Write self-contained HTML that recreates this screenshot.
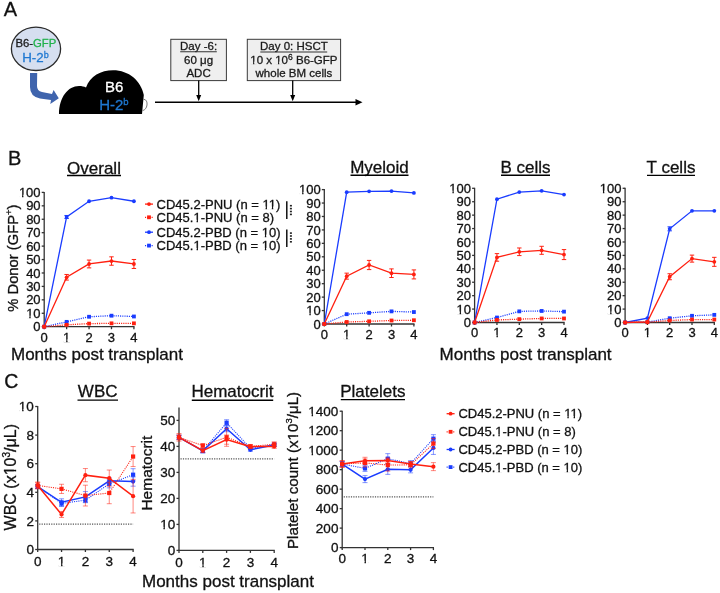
<!DOCTYPE html><html><head><meta charset="utf-8"><style>html,body{margin:0;padding:0;background:#fff;width:720px;height:593px;overflow:hidden}svg{display:block;will-change:transform}text{font-family:"Liberation Sans",sans-serif;stroke-width:0.3px}</style></head><body>
<svg width="720" height="593" viewBox="0 0 720 593">
<rect width="720" height="593" fill="#fff"/>
<text x="3.80" y="15.80" font-size="20" text-anchor="start" fill="#111" stroke="#111" >A</text>
<ellipse cx="36" cy="48.8" rx="24.6" ry="21.7" fill="#d6dff0" stroke="#2b2b2b" stroke-width="1.3"/>
<text x="35.9" y="46.8" font-size="11.3" text-anchor="middle" fill="#1a1a1a" stroke="#1a1a1a">B6-<tspan fill="#22b24c" stroke="#22b24c">GFP</tspan></text>
<text x="35.5" y="62.4" font-size="13.3" text-anchor="middle" fill="#1f78d1" stroke="#1f78d1">H-2<tspan font-size="9" dy="-4.8">b</tspan></text>
<path d="M30,73 L37.2,73 L37,86 Q37,91 42,92 L52,94 L53.6,90 L58.8,98.3 L50.3,104 L51,100 L40,98.5 Q30,96.5 30,87 Z" fill="#3f64ad"/>
<path d="M59,114 C59.3,97 68,86 79,86 C82,86 84,86.5 86,87.5 C90,76 101,70.3 113,70.3 C129,70.3 141,81 143.8,95 L142,114 Z" fill="#000"/>
<path d="M143.5,99.2 C146.5,99.5 147.3,102 147,105 C146.6,108 145,110 142.6,110.6" fill="none" stroke="#555" stroke-width="0.8"/>
<text x="114.10" y="91.80" font-size="15" text-anchor="middle" fill="#fff" stroke="#fff" >B6</text>
<text x="99.2" y="110" font-size="15" fill="#1f78d1" stroke="#1f78d1">H-2<tspan font-size="9.5" dy="-5">b</tspan></text>
<line x1="155.00" y1="102.20" x2="358.00" y2="102.20" stroke="#000" stroke-width="1.5" />
<path d="M355.5,98.9 L362.5,102.2 L355.5,105.5 Z" fill="#000"/>
<rect x="170.8" y="39.3" width="55.6" height="41.3" fill="#efefef" stroke="#3a3a3a" stroke-width="1"/>
<rect x="247.3" y="39.3" width="93.3" height="41.3" fill="#efefef" stroke="#3a3a3a" stroke-width="1"/>
<text x="198.60" y="49.80" font-size="11.5" text-anchor="middle" fill="#1a1a1a" stroke="#1a1a1a" >Day -6:</text>
<line x1="180.20" y1="51.70" x2="216.80" y2="51.70" stroke="#333" stroke-width="1.1" />
<text x="198.60" y="63.60" font-size="11.5" text-anchor="middle" fill="#1a1a1a" stroke="#1a1a1a" >60 μg</text>
<text x="198.60" y="77.20" font-size="11.5" text-anchor="middle" fill="#1a1a1a" stroke="#1a1a1a" >ADC</text>
<text x="293.90" y="49.90" font-size="11.5" text-anchor="middle" fill="#1a1a1a" stroke="#1a1a1a" >Day 0: HSCT</text>
<line x1="260.30" y1="52.00" x2="327.20" y2="52.00" stroke="#333" stroke-width="1.1" />
<text x="293.9" y="63.8" font-size="11.5" text-anchor="middle" fill="#1a1a1a" stroke="#1a1a1a">10 x 10<tspan font-size="8.5" dy="-4.3">6</tspan><tspan dy="4.3"> B6-GFP</tspan></text>
<text x="293.90" y="77.30" font-size="11.5" text-anchor="middle" fill="#1a1a1a" stroke="#1a1a1a" >whole BM cells</text>
<line x1="198.70" y1="80.60" x2="198.70" y2="97.00" stroke="#000" stroke-width="1.3" />
<path d="M196.2,95 L198.7,101.2 L201.2,95 Z" fill="#000"/>
<line x1="292.70" y1="80.60" x2="292.70" y2="97.00" stroke="#000" stroke-width="1.3" />
<path d="M290.2,95 L292.7,101.2 L295.2,95 Z" fill="#000"/>
<text x="7.90" y="164.60" font-size="20" text-anchor="start" fill="#111" stroke="#111" >B</text>
<text x="94.00" y="173.50" font-size="17" text-anchor="middle" fill="#111" stroke="#111" >Overall</text>
<line x1="67.00" y1="175.50" x2="121.00" y2="175.50" stroke="#000" stroke-width="1.4" />
<text x="379.50" y="173.00" font-size="17" text-anchor="middle" fill="#111" stroke="#111" >Myeloid</text>
<line x1="350.50" y1="175.20" x2="408.50" y2="175.20" stroke="#000" stroke-width="1.4" />
<text x="525.50" y="173.00" font-size="17" text-anchor="middle" fill="#111" stroke="#111" >B cells</text>
<line x1="501.00" y1="175.20" x2="550.00" y2="175.20" stroke="#000" stroke-width="1.4" />
<text x="671.00" y="173.00" font-size="17" text-anchor="middle" fill="#111" stroke="#111" >T cells</text>
<line x1="647.00" y1="175.40" x2="695.00" y2="175.40" stroke="#000" stroke-width="1.4" />
<text transform="translate(17.5,311.7) rotate(-90)" font-size="14.75" fill="#111" stroke="#111">% Donor (GFP<tspan font-size="9.5" dy="-6">+</tspan><tspan dy="6">)</tspan></text>
<text x="11.00" y="359.80" font-size="17" text-anchor="start" fill="#111" stroke="#111" >Months post transplant</text>
<text x="439.60" y="360.00" font-size="17" text-anchor="start" fill="#111" stroke="#111" >Months post transplant</text>
<line x1="44.20" y1="191.90" x2="44.20" y2="327.30" stroke="#333" stroke-width="1.3" />
<line x1="43.60" y1="326.70" x2="134.52" y2="326.70" stroke="#333" stroke-width="1.3" />
<line x1="41.70" y1="326.70" x2="44.20" y2="326.70" stroke="#333" stroke-width="1.3" />
<text x="40.60" y="331.31" font-size="13" text-anchor="end" fill="#111" stroke="#111" >0</text>
<line x1="41.70" y1="313.27" x2="44.20" y2="313.27" stroke="#333" stroke-width="1.3" />
<text x="40.60" y="317.88" font-size="13" text-anchor="end" fill="#111" stroke="#111" >10</text>
<line x1="41.70" y1="299.84" x2="44.20" y2="299.84" stroke="#333" stroke-width="1.3" />
<text x="40.60" y="304.45" font-size="13" text-anchor="end" fill="#111" stroke="#111" >20</text>
<line x1="41.70" y1="286.41" x2="44.20" y2="286.41" stroke="#333" stroke-width="1.3" />
<text x="40.60" y="291.02" font-size="13" text-anchor="end" fill="#111" stroke="#111" >30</text>
<line x1="41.70" y1="272.98" x2="44.20" y2="272.98" stroke="#333" stroke-width="1.3" />
<text x="40.60" y="277.60" font-size="13" text-anchor="end" fill="#111" stroke="#111" >40</text>
<line x1="41.70" y1="259.55" x2="44.20" y2="259.55" stroke="#333" stroke-width="1.3" />
<text x="40.60" y="264.17" font-size="13" text-anchor="end" fill="#111" stroke="#111" >50</text>
<line x1="41.70" y1="246.12" x2="44.20" y2="246.12" stroke="#333" stroke-width="1.3" />
<text x="40.60" y="250.74" font-size="13" text-anchor="end" fill="#111" stroke="#111" >60</text>
<line x1="41.70" y1="232.69" x2="44.20" y2="232.69" stroke="#333" stroke-width="1.3" />
<text x="40.60" y="237.31" font-size="13" text-anchor="end" fill="#111" stroke="#111" >70</text>
<line x1="41.70" y1="219.26" x2="44.20" y2="219.26" stroke="#333" stroke-width="1.3" />
<text x="40.60" y="223.88" font-size="13" text-anchor="end" fill="#111" stroke="#111" >80</text>
<line x1="41.70" y1="205.83" x2="44.20" y2="205.83" stroke="#333" stroke-width="1.3" />
<text x="40.60" y="210.45" font-size="13" text-anchor="end" fill="#111" stroke="#111" >90</text>
<line x1="41.70" y1="192.40" x2="44.20" y2="192.40" stroke="#333" stroke-width="1.3" />
<text x="40.60" y="197.02" font-size="13" text-anchor="end" fill="#111" stroke="#111" >100</text>
<line x1="44.20" y1="326.70" x2="44.20" y2="329.20" stroke="#333" stroke-width="1.3" />
<text x="44.20" y="341.50" font-size="13" text-anchor="middle" fill="#111" stroke="#111" >0</text>
<line x1="66.63" y1="326.70" x2="66.63" y2="329.20" stroke="#333" stroke-width="1.3" />
<text x="66.63" y="341.50" font-size="13" text-anchor="middle" fill="#111" stroke="#111" >1</text>
<line x1="89.06" y1="326.70" x2="89.06" y2="329.20" stroke="#333" stroke-width="1.3" />
<text x="89.06" y="341.50" font-size="13" text-anchor="middle" fill="#111" stroke="#111" >2</text>
<line x1="111.49" y1="326.70" x2="111.49" y2="329.20" stroke="#333" stroke-width="1.3" />
<text x="111.49" y="341.50" font-size="13" text-anchor="middle" fill="#111" stroke="#111" >3</text>
<line x1="133.92" y1="326.70" x2="133.92" y2="329.20" stroke="#333" stroke-width="1.3" />
<text x="133.92" y="341.50" font-size="13" text-anchor="middle" fill="#111" stroke="#111" >4</text>
<polyline points="44.20,326.70 66.63,321.87 89.06,316.76 111.49,315.69 133.92,316.49" fill="none" stroke="#1a3cff" stroke-width="1.3" stroke-dasharray="1.1 1.1"/>
<rect x="42.30" y="324.80" width="3.8" height="3.8" fill="#1a3cff"/>
<rect x="64.73" y="319.97" width="3.8" height="3.8" fill="#1a3cff"/>
<rect x="87.16" y="314.86" width="3.8" height="3.8" fill="#1a3cff"/>
<rect x="109.59" y="313.79" width="3.8" height="3.8" fill="#1a3cff"/>
<rect x="132.02" y="314.59" width="3.8" height="3.8" fill="#1a3cff"/>
<polyline points="44.20,326.70 66.63,216.98 89.06,201.26 111.49,197.64 133.92,201.26" fill="none" stroke="#1a3cff" stroke-width="1.3" />
<circle cx="44.20" cy="326.70" r="1.9" fill="#1a3cff"/>
<line x1="66.63" y1="215.48" x2="66.63" y2="218.48" stroke="#1a3cff" stroke-width="1.0" stroke-opacity="1.0"/>
<line x1="64.43" y1="215.48" x2="68.83" y2="215.48" stroke="#1a3cff" stroke-width="1.0" stroke-opacity="1.0"/>
<line x1="64.43" y1="218.48" x2="68.83" y2="218.48" stroke="#1a3cff" stroke-width="1.0" stroke-opacity="1.0"/>
<circle cx="66.63" cy="216.98" r="1.9" fill="#1a3cff"/>
<circle cx="89.06" cy="201.26" r="1.9" fill="#1a3cff"/>
<circle cx="111.49" cy="197.64" r="1.9" fill="#1a3cff"/>
<circle cx="133.92" cy="201.26" r="1.9" fill="#1a3cff"/>
<polyline points="44.20,326.70 66.63,324.82 89.06,323.61 111.49,323.34 133.92,323.34" fill="none" stroke="#ff2010" stroke-width="1.3" stroke-dasharray="1.1 1.1"/>
<rect x="42.30" y="324.80" width="3.8" height="3.8" fill="#ff2010"/>
<rect x="64.73" y="322.92" width="3.8" height="3.8" fill="#ff2010"/>
<rect x="87.16" y="321.71" width="3.8" height="3.8" fill="#ff2010"/>
<rect x="109.59" y="321.44" width="3.8" height="3.8" fill="#ff2010"/>
<rect x="132.02" y="321.44" width="3.8" height="3.8" fill="#ff2010"/>
<polyline points="44.20,326.70 66.63,277.28 89.06,263.98 111.49,261.03 133.92,263.98" fill="none" stroke="#ff2010" stroke-width="1.3" />
<circle cx="44.20" cy="326.70" r="1.9" fill="#ff2010"/>
<line x1="66.63" y1="274.48" x2="66.63" y2="280.08" stroke="#ff2010" stroke-width="1.0" stroke-opacity="1.0"/>
<line x1="64.43" y1="274.48" x2="68.83" y2="274.48" stroke="#ff2010" stroke-width="1.0" stroke-opacity="1.0"/>
<line x1="64.43" y1="280.08" x2="68.83" y2="280.08" stroke="#ff2010" stroke-width="1.0" stroke-opacity="1.0"/>
<circle cx="66.63" cy="277.28" r="1.9" fill="#ff2010"/>
<line x1="89.06" y1="260.08" x2="89.06" y2="267.88" stroke="#ff2010" stroke-width="1.0" stroke-opacity="1.0"/>
<line x1="86.86" y1="260.08" x2="91.26" y2="260.08" stroke="#ff2010" stroke-width="1.0" stroke-opacity="1.0"/>
<line x1="86.86" y1="267.88" x2="91.26" y2="267.88" stroke="#ff2010" stroke-width="1.0" stroke-opacity="1.0"/>
<circle cx="89.06" cy="263.98" r="1.9" fill="#ff2010"/>
<line x1="111.49" y1="256.83" x2="111.49" y2="265.23" stroke="#ff2010" stroke-width="1.0" stroke-opacity="1.0"/>
<line x1="109.29" y1="256.83" x2="113.69" y2="256.83" stroke="#ff2010" stroke-width="1.0" stroke-opacity="1.0"/>
<line x1="109.29" y1="265.23" x2="113.69" y2="265.23" stroke="#ff2010" stroke-width="1.0" stroke-opacity="1.0"/>
<circle cx="111.49" cy="261.03" r="1.9" fill="#ff2010"/>
<line x1="133.92" y1="259.48" x2="133.92" y2="268.48" stroke="#ff2010" stroke-width="1.0" stroke-opacity="1.0"/>
<line x1="131.72" y1="259.48" x2="136.12" y2="259.48" stroke="#ff2010" stroke-width="1.0" stroke-opacity="1.0"/>
<line x1="131.72" y1="268.48" x2="136.12" y2="268.48" stroke="#ff2010" stroke-width="1.0" stroke-opacity="1.0"/>
<circle cx="133.92" cy="263.98" r="1.9" fill="#ff2010"/>
<line x1="324.30" y1="189.10" x2="324.30" y2="324.60" stroke="#333" stroke-width="1.3" />
<line x1="323.70" y1="324.00" x2="414.50" y2="324.00" stroke="#333" stroke-width="1.3" />
<line x1="321.80" y1="324.00" x2="324.30" y2="324.00" stroke="#333" stroke-width="1.3" />
<text x="320.70" y="328.62" font-size="13" text-anchor="end" fill="#111" stroke="#111" >0</text>
<line x1="321.80" y1="310.56" x2="324.30" y2="310.56" stroke="#333" stroke-width="1.3" />
<text x="320.70" y="315.18" font-size="13" text-anchor="end" fill="#111" stroke="#111" >10</text>
<line x1="321.80" y1="297.12" x2="324.30" y2="297.12" stroke="#333" stroke-width="1.3" />
<text x="320.70" y="301.74" font-size="13" text-anchor="end" fill="#111" stroke="#111" >20</text>
<line x1="321.80" y1="283.68" x2="324.30" y2="283.68" stroke="#333" stroke-width="1.3" />
<text x="320.70" y="288.30" font-size="13" text-anchor="end" fill="#111" stroke="#111" >30</text>
<line x1="321.80" y1="270.24" x2="324.30" y2="270.24" stroke="#333" stroke-width="1.3" />
<text x="320.70" y="274.86" font-size="13" text-anchor="end" fill="#111" stroke="#111" >40</text>
<line x1="321.80" y1="256.80" x2="324.30" y2="256.80" stroke="#333" stroke-width="1.3" />
<text x="320.70" y="261.42" font-size="13" text-anchor="end" fill="#111" stroke="#111" >50</text>
<line x1="321.80" y1="243.36" x2="324.30" y2="243.36" stroke="#333" stroke-width="1.3" />
<text x="320.70" y="247.98" font-size="13" text-anchor="end" fill="#111" stroke="#111" >60</text>
<line x1="321.80" y1="229.92" x2="324.30" y2="229.92" stroke="#333" stroke-width="1.3" />
<text x="320.70" y="234.53" font-size="13" text-anchor="end" fill="#111" stroke="#111" >70</text>
<line x1="321.80" y1="216.48" x2="324.30" y2="216.48" stroke="#333" stroke-width="1.3" />
<text x="320.70" y="221.09" font-size="13" text-anchor="end" fill="#111" stroke="#111" >80</text>
<line x1="321.80" y1="203.04" x2="324.30" y2="203.04" stroke="#333" stroke-width="1.3" />
<text x="320.70" y="207.66" font-size="13" text-anchor="end" fill="#111" stroke="#111" >90</text>
<line x1="321.80" y1="189.60" x2="324.30" y2="189.60" stroke="#333" stroke-width="1.3" />
<text x="320.70" y="194.22" font-size="13" text-anchor="end" fill="#111" stroke="#111" >100</text>
<line x1="324.30" y1="324.00" x2="324.30" y2="326.50" stroke="#333" stroke-width="1.3" />
<text x="324.30" y="338.70" font-size="13" text-anchor="middle" fill="#111" stroke="#111" >0</text>
<line x1="346.70" y1="324.00" x2="346.70" y2="326.50" stroke="#333" stroke-width="1.3" />
<text x="346.70" y="338.70" font-size="13" text-anchor="middle" fill="#111" stroke="#111" >1</text>
<line x1="369.10" y1="324.00" x2="369.10" y2="326.50" stroke="#333" stroke-width="1.3" />
<text x="369.10" y="338.70" font-size="13" text-anchor="middle" fill="#111" stroke="#111" >2</text>
<line x1="391.50" y1="324.00" x2="391.50" y2="326.50" stroke="#333" stroke-width="1.3" />
<text x="391.50" y="338.70" font-size="13" text-anchor="middle" fill="#111" stroke="#111" >3</text>
<line x1="413.90" y1="324.00" x2="413.90" y2="326.50" stroke="#333" stroke-width="1.3" />
<text x="413.90" y="338.70" font-size="13" text-anchor="middle" fill="#111" stroke="#111" >4</text>
<polyline points="324.30,324.00 346.70,314.19 369.10,312.84 391.50,311.37 413.90,312.04" fill="none" stroke="#1a3cff" stroke-width="1.3" stroke-dasharray="1.1 1.1"/>
<rect x="322.40" y="322.10" width="3.8" height="3.8" fill="#1a3cff"/>
<rect x="344.80" y="312.29" width="3.8" height="3.8" fill="#1a3cff"/>
<rect x="367.20" y="310.94" width="3.8" height="3.8" fill="#1a3cff"/>
<rect x="389.60" y="309.47" width="3.8" height="3.8" fill="#1a3cff"/>
<rect x="412.00" y="310.14" width="3.8" height="3.8" fill="#1a3cff"/>
<polyline points="324.30,324.00 346.70,192.15 369.10,191.35 391.50,191.08 413.90,192.96" fill="none" stroke="#1a3cff" stroke-width="1.3" />
<circle cx="324.30" cy="324.00" r="1.9" fill="#1a3cff"/>
<circle cx="346.70" cy="192.15" r="1.9" fill="#1a3cff"/>
<circle cx="369.10" cy="191.35" r="1.9" fill="#1a3cff"/>
<circle cx="391.50" cy="191.08" r="1.9" fill="#1a3cff"/>
<circle cx="413.90" cy="192.96" r="1.9" fill="#1a3cff"/>
<polyline points="324.30,324.00 346.70,321.98 369.10,321.31 391.50,320.51 413.90,320.24" fill="none" stroke="#ff2010" stroke-width="1.3" stroke-dasharray="1.1 1.1"/>
<rect x="322.40" y="322.10" width="3.8" height="3.8" fill="#ff2010"/>
<rect x="344.80" y="320.08" width="3.8" height="3.8" fill="#ff2010"/>
<rect x="367.20" y="319.41" width="3.8" height="3.8" fill="#ff2010"/>
<rect x="389.60" y="318.61" width="3.8" height="3.8" fill="#ff2010"/>
<rect x="412.00" y="318.34" width="3.8" height="3.8" fill="#ff2010"/>
<polyline points="324.30,324.00 346.70,276.15 369.10,265.00 391.50,273.20 413.90,274.41" fill="none" stroke="#ff2010" stroke-width="1.3" />
<circle cx="324.30" cy="324.00" r="1.9" fill="#ff2010"/>
<line x1="346.70" y1="273.15" x2="346.70" y2="279.15" stroke="#ff2010" stroke-width="1.0" stroke-opacity="1.0"/>
<line x1="344.50" y1="273.15" x2="348.90" y2="273.15" stroke="#ff2010" stroke-width="1.0" stroke-opacity="1.0"/>
<line x1="344.50" y1="279.15" x2="348.90" y2="279.15" stroke="#ff2010" stroke-width="1.0" stroke-opacity="1.0"/>
<circle cx="346.70" cy="276.15" r="1.9" fill="#ff2010"/>
<line x1="369.10" y1="260.40" x2="369.10" y2="269.60" stroke="#ff2010" stroke-width="1.0" stroke-opacity="1.0"/>
<line x1="366.90" y1="260.40" x2="371.30" y2="260.40" stroke="#ff2010" stroke-width="1.0" stroke-opacity="1.0"/>
<line x1="366.90" y1="269.60" x2="371.30" y2="269.60" stroke="#ff2010" stroke-width="1.0" stroke-opacity="1.0"/>
<circle cx="369.10" cy="265.00" r="1.9" fill="#ff2010"/>
<line x1="391.50" y1="268.90" x2="391.50" y2="277.50" stroke="#ff2010" stroke-width="1.0" stroke-opacity="1.0"/>
<line x1="389.30" y1="268.90" x2="393.70" y2="268.90" stroke="#ff2010" stroke-width="1.0" stroke-opacity="1.0"/>
<line x1="389.30" y1="277.50" x2="393.70" y2="277.50" stroke="#ff2010" stroke-width="1.0" stroke-opacity="1.0"/>
<circle cx="391.50" cy="273.20" r="1.9" fill="#ff2010"/>
<line x1="413.90" y1="269.91" x2="413.90" y2="278.91" stroke="#ff2010" stroke-width="1.0" stroke-opacity="1.0"/>
<line x1="411.70" y1="269.91" x2="416.10" y2="269.91" stroke="#ff2010" stroke-width="1.0" stroke-opacity="1.0"/>
<line x1="411.70" y1="278.91" x2="416.10" y2="278.91" stroke="#ff2010" stroke-width="1.0" stroke-opacity="1.0"/>
<circle cx="413.90" cy="274.41" r="1.9" fill="#ff2010"/>
<line x1="474.60" y1="187.80" x2="474.60" y2="323.10" stroke="#333" stroke-width="1.3" />
<line x1="474.00" y1="322.50" x2="564.60" y2="322.50" stroke="#333" stroke-width="1.3" />
<line x1="472.10" y1="322.50" x2="474.60" y2="322.50" stroke="#333" stroke-width="1.3" />
<text x="471.00" y="327.12" font-size="13" text-anchor="end" fill="#111" stroke="#111" >0</text>
<line x1="472.10" y1="309.08" x2="474.60" y2="309.08" stroke="#333" stroke-width="1.3" />
<text x="471.00" y="313.69" font-size="13" text-anchor="end" fill="#111" stroke="#111" >10</text>
<line x1="472.10" y1="295.66" x2="474.60" y2="295.66" stroke="#333" stroke-width="1.3" />
<text x="471.00" y="300.28" font-size="13" text-anchor="end" fill="#111" stroke="#111" >20</text>
<line x1="472.10" y1="282.24" x2="474.60" y2="282.24" stroke="#333" stroke-width="1.3" />
<text x="471.00" y="286.86" font-size="13" text-anchor="end" fill="#111" stroke="#111" >30</text>
<line x1="472.10" y1="268.82" x2="474.60" y2="268.82" stroke="#333" stroke-width="1.3" />
<text x="471.00" y="273.44" font-size="13" text-anchor="end" fill="#111" stroke="#111" >40</text>
<line x1="472.10" y1="255.40" x2="474.60" y2="255.40" stroke="#333" stroke-width="1.3" />
<text x="471.00" y="260.01" font-size="13" text-anchor="end" fill="#111" stroke="#111" >50</text>
<line x1="472.10" y1="241.98" x2="474.60" y2="241.98" stroke="#333" stroke-width="1.3" />
<text x="471.00" y="246.60" font-size="13" text-anchor="end" fill="#111" stroke="#111" >60</text>
<line x1="472.10" y1="228.56" x2="474.60" y2="228.56" stroke="#333" stroke-width="1.3" />
<text x="471.00" y="233.18" font-size="13" text-anchor="end" fill="#111" stroke="#111" >70</text>
<line x1="472.10" y1="215.14" x2="474.60" y2="215.14" stroke="#333" stroke-width="1.3" />
<text x="471.00" y="219.76" font-size="13" text-anchor="end" fill="#111" stroke="#111" >80</text>
<line x1="472.10" y1="201.72" x2="474.60" y2="201.72" stroke="#333" stroke-width="1.3" />
<text x="471.00" y="206.34" font-size="13" text-anchor="end" fill="#111" stroke="#111" >90</text>
<line x1="472.10" y1="188.30" x2="474.60" y2="188.30" stroke="#333" stroke-width="1.3" />
<text x="471.00" y="192.92" font-size="13" text-anchor="end" fill="#111" stroke="#111" >100</text>
<line x1="474.60" y1="322.50" x2="474.60" y2="325.00" stroke="#333" stroke-width="1.3" />
<text x="474.60" y="337.20" font-size="13" text-anchor="middle" fill="#111" stroke="#111" >0</text>
<line x1="496.95" y1="322.50" x2="496.95" y2="325.00" stroke="#333" stroke-width="1.3" />
<text x="496.95" y="337.20" font-size="13" text-anchor="middle" fill="#111" stroke="#111" >1</text>
<line x1="519.30" y1="322.50" x2="519.30" y2="325.00" stroke="#333" stroke-width="1.3" />
<text x="519.30" y="337.20" font-size="13" text-anchor="middle" fill="#111" stroke="#111" >2</text>
<line x1="541.65" y1="322.50" x2="541.65" y2="325.00" stroke="#333" stroke-width="1.3" />
<text x="541.65" y="337.20" font-size="13" text-anchor="middle" fill="#111" stroke="#111" >3</text>
<line x1="564.00" y1="322.50" x2="564.00" y2="325.00" stroke="#333" stroke-width="1.3" />
<text x="564.00" y="337.20" font-size="13" text-anchor="middle" fill="#111" stroke="#111" >4</text>
<polyline points="474.60,322.50 496.95,317.53 519.30,311.36 541.65,310.96 564.00,311.63" fill="none" stroke="#1a3cff" stroke-width="1.3" stroke-dasharray="1.1 1.1"/>
<rect x="472.70" y="320.60" width="3.8" height="3.8" fill="#1a3cff"/>
<rect x="495.05" y="315.63" width="3.8" height="3.8" fill="#1a3cff"/>
<rect x="517.40" y="309.46" width="3.8" height="3.8" fill="#1a3cff"/>
<rect x="539.75" y="309.06" width="3.8" height="3.8" fill="#1a3cff"/>
<rect x="562.10" y="309.73" width="3.8" height="3.8" fill="#1a3cff"/>
<polyline points="474.60,322.50 496.95,199.17 519.30,192.06 541.65,190.85 564.00,194.61" fill="none" stroke="#1a3cff" stroke-width="1.3" />
<circle cx="474.60" cy="322.50" r="1.9" fill="#1a3cff"/>
<circle cx="496.95" cy="199.17" r="1.9" fill="#1a3cff"/>
<circle cx="519.30" cy="192.06" r="1.9" fill="#1a3cff"/>
<circle cx="541.65" cy="190.85" r="1.9" fill="#1a3cff"/>
<circle cx="564.00" cy="194.61" r="1.9" fill="#1a3cff"/>
<polyline points="474.60,322.50 496.95,319.95 519.30,319.14 541.65,318.47 564.00,318.47" fill="none" stroke="#ff2010" stroke-width="1.3" stroke-dasharray="1.1 1.1"/>
<rect x="472.70" y="320.60" width="3.8" height="3.8" fill="#ff2010"/>
<rect x="495.05" y="318.05" width="3.8" height="3.8" fill="#ff2010"/>
<rect x="517.40" y="317.25" width="3.8" height="3.8" fill="#ff2010"/>
<rect x="539.75" y="316.57" width="3.8" height="3.8" fill="#ff2010"/>
<rect x="562.10" y="316.57" width="3.8" height="3.8" fill="#ff2010"/>
<polyline points="474.60,322.50 496.95,257.41 519.30,251.78 541.65,250.30 564.00,254.59" fill="none" stroke="#ff2010" stroke-width="1.3" />
<circle cx="474.60" cy="322.50" r="1.9" fill="#ff2010"/>
<line x1="496.95" y1="253.61" x2="496.95" y2="261.21" stroke="#ff2010" stroke-width="1.0" stroke-opacity="1.0"/>
<line x1="494.75" y1="253.61" x2="499.15" y2="253.61" stroke="#ff2010" stroke-width="1.0" stroke-opacity="1.0"/>
<line x1="494.75" y1="261.21" x2="499.15" y2="261.21" stroke="#ff2010" stroke-width="1.0" stroke-opacity="1.0"/>
<circle cx="496.95" cy="257.41" r="1.9" fill="#ff2010"/>
<line x1="519.30" y1="247.98" x2="519.30" y2="255.58" stroke="#ff2010" stroke-width="1.0" stroke-opacity="1.0"/>
<line x1="517.10" y1="247.98" x2="521.50" y2="247.98" stroke="#ff2010" stroke-width="1.0" stroke-opacity="1.0"/>
<line x1="517.10" y1="255.58" x2="521.50" y2="255.58" stroke="#ff2010" stroke-width="1.0" stroke-opacity="1.0"/>
<circle cx="519.30" cy="251.78" r="1.9" fill="#ff2010"/>
<line x1="541.65" y1="246.30" x2="541.65" y2="254.30" stroke="#ff2010" stroke-width="1.0" stroke-opacity="1.0"/>
<line x1="539.45" y1="246.30" x2="543.85" y2="246.30" stroke="#ff2010" stroke-width="1.0" stroke-opacity="1.0"/>
<line x1="539.45" y1="254.30" x2="543.85" y2="254.30" stroke="#ff2010" stroke-width="1.0" stroke-opacity="1.0"/>
<circle cx="541.65" cy="250.30" r="1.9" fill="#ff2010"/>
<line x1="564.00" y1="249.59" x2="564.00" y2="259.59" stroke="#ff2010" stroke-width="1.0" stroke-opacity="1.0"/>
<line x1="561.80" y1="249.59" x2="566.20" y2="249.59" stroke="#ff2010" stroke-width="1.0" stroke-opacity="1.0"/>
<line x1="561.80" y1="259.59" x2="566.20" y2="259.59" stroke="#ff2010" stroke-width="1.0" stroke-opacity="1.0"/>
<circle cx="564.00" cy="254.59" r="1.9" fill="#ff2010"/>
<line x1="625.10" y1="187.80" x2="625.10" y2="323.10" stroke="#333" stroke-width="1.3" />
<line x1="624.50" y1="322.50" x2="714.90" y2="322.50" stroke="#333" stroke-width="1.3" />
<line x1="622.60" y1="322.50" x2="625.10" y2="322.50" stroke="#333" stroke-width="1.3" />
<text x="621.50" y="327.12" font-size="13" text-anchor="end" fill="#111" stroke="#111" >0</text>
<line x1="622.60" y1="309.08" x2="625.10" y2="309.08" stroke="#333" stroke-width="1.3" />
<text x="621.50" y="313.69" font-size="13" text-anchor="end" fill="#111" stroke="#111" >10</text>
<line x1="622.60" y1="295.66" x2="625.10" y2="295.66" stroke="#333" stroke-width="1.3" />
<text x="621.50" y="300.28" font-size="13" text-anchor="end" fill="#111" stroke="#111" >20</text>
<line x1="622.60" y1="282.24" x2="625.10" y2="282.24" stroke="#333" stroke-width="1.3" />
<text x="621.50" y="286.86" font-size="13" text-anchor="end" fill="#111" stroke="#111" >30</text>
<line x1="622.60" y1="268.82" x2="625.10" y2="268.82" stroke="#333" stroke-width="1.3" />
<text x="621.50" y="273.44" font-size="13" text-anchor="end" fill="#111" stroke="#111" >40</text>
<line x1="622.60" y1="255.40" x2="625.10" y2="255.40" stroke="#333" stroke-width="1.3" />
<text x="621.50" y="260.01" font-size="13" text-anchor="end" fill="#111" stroke="#111" >50</text>
<line x1="622.60" y1="241.98" x2="625.10" y2="241.98" stroke="#333" stroke-width="1.3" />
<text x="621.50" y="246.60" font-size="13" text-anchor="end" fill="#111" stroke="#111" >60</text>
<line x1="622.60" y1="228.56" x2="625.10" y2="228.56" stroke="#333" stroke-width="1.3" />
<text x="621.50" y="233.18" font-size="13" text-anchor="end" fill="#111" stroke="#111" >70</text>
<line x1="622.60" y1="215.14" x2="625.10" y2="215.14" stroke="#333" stroke-width="1.3" />
<text x="621.50" y="219.76" font-size="13" text-anchor="end" fill="#111" stroke="#111" >80</text>
<line x1="622.60" y1="201.72" x2="625.10" y2="201.72" stroke="#333" stroke-width="1.3" />
<text x="621.50" y="206.34" font-size="13" text-anchor="end" fill="#111" stroke="#111" >90</text>
<line x1="622.60" y1="188.30" x2="625.10" y2="188.30" stroke="#333" stroke-width="1.3" />
<text x="621.50" y="192.92" font-size="13" text-anchor="end" fill="#111" stroke="#111" >100</text>
<line x1="625.10" y1="322.50" x2="625.10" y2="325.00" stroke="#333" stroke-width="1.3" />
<text x="625.10" y="337.20" font-size="13" text-anchor="middle" fill="#111" stroke="#111" >0</text>
<line x1="647.40" y1="322.50" x2="647.40" y2="325.00" stroke="#333" stroke-width="1.3" />
<text x="647.40" y="337.20" font-size="13" text-anchor="middle" fill="#111" stroke="#111" >1</text>
<line x1="669.70" y1="322.50" x2="669.70" y2="325.00" stroke="#333" stroke-width="1.3" />
<text x="669.70" y="337.20" font-size="13" text-anchor="middle" fill="#111" stroke="#111" >2</text>
<line x1="692.00" y1="322.50" x2="692.00" y2="325.00" stroke="#333" stroke-width="1.3" />
<text x="692.00" y="337.20" font-size="13" text-anchor="middle" fill="#111" stroke="#111" >3</text>
<line x1="714.30" y1="322.50" x2="714.30" y2="325.00" stroke="#333" stroke-width="1.3" />
<text x="714.30" y="337.20" font-size="13" text-anchor="middle" fill="#111" stroke="#111" >4</text>
<polyline points="625.10,322.50 647.40,322.10 669.70,318.21 692.00,315.79 714.30,314.85" fill="none" stroke="#1a3cff" stroke-width="1.3" stroke-dasharray="1.1 1.1"/>
<rect x="623.20" y="320.60" width="3.8" height="3.8" fill="#1a3cff"/>
<rect x="645.50" y="320.20" width="3.8" height="3.8" fill="#1a3cff"/>
<rect x="667.80" y="316.31" width="3.8" height="3.8" fill="#1a3cff"/>
<rect x="690.10" y="313.89" width="3.8" height="3.8" fill="#1a3cff"/>
<rect x="712.40" y="312.95" width="3.8" height="3.8" fill="#1a3cff"/>
<polyline points="625.10,322.50 647.40,318.07 669.70,228.83 692.00,210.85 714.30,210.85" fill="none" stroke="#1a3cff" stroke-width="1.3" />
<circle cx="625.10" cy="322.50" r="1.9" fill="#1a3cff"/>
<circle cx="647.40" cy="318.07" r="1.9" fill="#1a3cff"/>
<line x1="669.70" y1="226.83" x2="669.70" y2="230.83" stroke="#1a3cff" stroke-width="1.0" stroke-opacity="1.0"/>
<line x1="667.50" y1="226.83" x2="671.90" y2="226.83" stroke="#1a3cff" stroke-width="1.0" stroke-opacity="1.0"/>
<line x1="667.50" y1="230.83" x2="671.90" y2="230.83" stroke="#1a3cff" stroke-width="1.0" stroke-opacity="1.0"/>
<circle cx="669.70" cy="228.83" r="1.9" fill="#1a3cff"/>
<circle cx="692.00" cy="210.85" r="1.9" fill="#1a3cff"/>
<circle cx="714.30" cy="210.85" r="1.9" fill="#1a3cff"/>
<polyline points="625.10,322.50 647.40,322.23 669.70,320.49 692.00,319.55 714.30,319.55" fill="none" stroke="#ff2010" stroke-width="1.3" stroke-dasharray="1.1 1.1"/>
<rect x="623.20" y="320.60" width="3.8" height="3.8" fill="#ff2010"/>
<rect x="645.50" y="320.33" width="3.8" height="3.8" fill="#ff2010"/>
<rect x="667.80" y="318.59" width="3.8" height="3.8" fill="#ff2010"/>
<rect x="690.10" y="317.65" width="3.8" height="3.8" fill="#ff2010"/>
<rect x="712.40" y="317.65" width="3.8" height="3.8" fill="#ff2010"/>
<polyline points="625.10,322.50 647.40,321.83 669.70,276.74 692.00,258.62 714.30,261.84" fill="none" stroke="#ff2010" stroke-width="1.3" />
<circle cx="625.10" cy="322.50" r="1.9" fill="#ff2010"/>
<circle cx="647.40" cy="321.83" r="1.9" fill="#ff2010"/>
<line x1="669.70" y1="273.74" x2="669.70" y2="279.74" stroke="#ff2010" stroke-width="1.0" stroke-opacity="1.0"/>
<line x1="667.50" y1="273.74" x2="671.90" y2="273.74" stroke="#ff2010" stroke-width="1.0" stroke-opacity="1.0"/>
<line x1="667.50" y1="279.74" x2="671.90" y2="279.74" stroke="#ff2010" stroke-width="1.0" stroke-opacity="1.0"/>
<circle cx="669.70" cy="276.74" r="1.9" fill="#ff2010"/>
<line x1="692.00" y1="255.12" x2="692.00" y2="262.12" stroke="#ff2010" stroke-width="1.0" stroke-opacity="1.0"/>
<line x1="689.80" y1="255.12" x2="694.20" y2="255.12" stroke="#ff2010" stroke-width="1.0" stroke-opacity="1.0"/>
<line x1="689.80" y1="262.12" x2="694.20" y2="262.12" stroke="#ff2010" stroke-width="1.0" stroke-opacity="1.0"/>
<circle cx="692.00" cy="258.62" r="1.9" fill="#ff2010"/>
<line x1="714.30" y1="257.34" x2="714.30" y2="266.34" stroke="#ff2010" stroke-width="1.0" stroke-opacity="1.0"/>
<line x1="712.10" y1="257.34" x2="716.50" y2="257.34" stroke="#ff2010" stroke-width="1.0" stroke-opacity="1.0"/>
<line x1="712.10" y1="266.34" x2="716.50" y2="266.34" stroke="#ff2010" stroke-width="1.0" stroke-opacity="1.0"/>
<circle cx="714.30" cy="261.84" r="1.9" fill="#ff2010"/>
<line x1="145.00" y1="204.10" x2="153.00" y2="204.10" stroke="#ff2010" stroke-width="1.3" />
<circle cx="149.00" cy="204.10" r="1.9" fill="#ff2010"/>
<text x="156.60" y="208.78" font-size="13" text-anchor="start" fill="#111" stroke="#111" >CD45.2-PNU (n = 11)</text>
<line x1="145.00" y1="217.30" x2="153.00" y2="217.30" stroke="#ff2010" stroke-width="1.3" stroke-dasharray="1.1 1.1"/>
<rect x="147.10" y="215.40" width="3.8" height="3.8" fill="#ff2010"/>
<text x="156.60" y="221.98" font-size="13" text-anchor="start" fill="#111" stroke="#111" >CD45.1-PNU (n = 8)</text>
<line x1="145.00" y1="232.20" x2="153.00" y2="232.20" stroke="#1a3cff" stroke-width="1.3" />
<circle cx="149.00" cy="232.20" r="1.9" fill="#1a3cff"/>
<text x="156.60" y="236.88" font-size="13" text-anchor="start" fill="#111" stroke="#111" >CD45.2-PBD (n = 10)</text>
<line x1="145.00" y1="245.60" x2="153.00" y2="245.60" stroke="#1a3cff" stroke-width="1.3" stroke-dasharray="1.1 1.1"/>
<rect x="147.10" y="243.70" width="3.8" height="3.8" fill="#1a3cff"/>
<text x="156.60" y="250.28" font-size="13" text-anchor="start" fill="#111" stroke="#111" >CD45.1-PBD (n = 10)</text>
<line x1="286.80" y1="201.30" x2="286.80" y2="218.90" stroke="#000" stroke-width="1.4" />
<line x1="286.80" y1="229.40" x2="286.80" y2="247.10" stroke="#000" stroke-width="1.4" />
<rect x="289.9" y="204.90" width="2" height="1.6" fill="#222"/>
<rect x="289.9" y="207.80" width="2" height="1.6" fill="#222"/>
<rect x="289.9" y="210.70" width="2" height="1.6" fill="#222"/>
<rect x="289.9" y="213.60" width="2" height="1.6" fill="#222"/>
<rect x="289.9" y="232.30" width="2" height="1.6" fill="#222"/>
<rect x="289.9" y="235.20" width="2" height="1.6" fill="#222"/>
<rect x="289.9" y="238.10" width="2" height="1.6" fill="#222"/>
<rect x="289.9" y="241.00" width="2" height="1.6" fill="#222"/>
<text x="4.30" y="387.90" font-size="19.5" text-anchor="start" fill="#111" stroke="#111" >C</text>
<text x="97.70" y="397.20" font-size="17" text-anchor="middle" fill="#111" stroke="#111" >WBC</text>
<line x1="77.50" y1="400.10" x2="118.00" y2="400.10" stroke="#000" stroke-width="1.4" />
<text x="232.50" y="397.20" font-size="17" text-anchor="middle" fill="#111" stroke="#111" >Hematocrit</text>
<line x1="191.80" y1="400.20" x2="273.20" y2="400.20" stroke="#000" stroke-width="1.4" />
<text x="372.80" y="397.20" font-size="17" text-anchor="middle" fill="#111" stroke="#111" >Platelets</text>
<line x1="340.80" y1="399.60" x2="405.00" y2="399.60" stroke="#000" stroke-width="1.4" />
<text transform="translate(16.4,530.4) rotate(-90)" font-size="16" fill="#111" stroke="#111">WBC (x10<tspan font-size="10" dy="-6">3</tspan><tspan dy="6">/μL)</tspan></text>
<text transform="translate(151.8,510.6) rotate(-90)" font-size="15.5" fill="#111" stroke="#111">Hematocrit</text>
<text transform="translate(298.2,549.0) rotate(-90)" font-size="15.15" fill="#111" stroke="#111">Platelet count (x10<tspan font-size="9.5" dy="-6">3</tspan><tspan dy="6">/μL)</tspan></text>
<text x="142.00" y="586.80" font-size="17" text-anchor="start" fill="#111" stroke="#111" >Months post transplant</text>
<line x1="39.20" y1="524.05" x2="133.10" y2="524.05" stroke="#555" stroke-width="1.2" stroke-dasharray="1.2 1.2"/>
<line x1="37.70" y1="406.00" x2="37.70" y2="550.10" stroke="#333" stroke-width="1.3" />
<line x1="37.10" y1="549.50" x2="133.70" y2="549.50" stroke="#333" stroke-width="1.3" />
<line x1="35.20" y1="549.50" x2="37.70" y2="549.50" stroke="#333" stroke-width="1.3" />
<text x="33.90" y="554.29" font-size="13.5" text-anchor="end" fill="#111" stroke="#111" >0</text>
<line x1="35.20" y1="520.90" x2="37.70" y2="520.90" stroke="#333" stroke-width="1.3" />
<text x="33.90" y="525.69" font-size="13.5" text-anchor="end" fill="#111" stroke="#111" >2</text>
<line x1="35.20" y1="492.30" x2="37.70" y2="492.30" stroke="#333" stroke-width="1.3" />
<text x="33.90" y="497.09" font-size="13.5" text-anchor="end" fill="#111" stroke="#111" >4</text>
<line x1="35.20" y1="463.70" x2="37.70" y2="463.70" stroke="#333" stroke-width="1.3" />
<text x="33.90" y="468.49" font-size="13.5" text-anchor="end" fill="#111" stroke="#111" >6</text>
<line x1="35.20" y1="435.10" x2="37.70" y2="435.10" stroke="#333" stroke-width="1.3" />
<text x="33.90" y="439.89" font-size="13.5" text-anchor="end" fill="#111" stroke="#111" >8</text>
<line x1="35.20" y1="406.50" x2="37.70" y2="406.50" stroke="#333" stroke-width="1.3" />
<text x="33.90" y="411.29" font-size="13.5" text-anchor="end" fill="#111" stroke="#111" >10</text>
<line x1="37.70" y1="549.50" x2="37.70" y2="552.00" stroke="#333" stroke-width="1.3" />
<text x="37.70" y="565.70" font-size="13.5" text-anchor="middle" fill="#111" stroke="#111" >0</text>
<line x1="61.55" y1="549.50" x2="61.55" y2="552.00" stroke="#333" stroke-width="1.3" />
<text x="61.55" y="565.70" font-size="13.5" text-anchor="middle" fill="#111" stroke="#111" >1</text>
<line x1="85.40" y1="549.50" x2="85.40" y2="552.00" stroke="#333" stroke-width="1.3" />
<text x="85.40" y="565.70" font-size="13.5" text-anchor="middle" fill="#111" stroke="#111" >2</text>
<line x1="109.25" y1="549.50" x2="109.25" y2="552.00" stroke="#333" stroke-width="1.3" />
<text x="109.25" y="565.70" font-size="13.5" text-anchor="middle" fill="#111" stroke="#111" >3</text>
<line x1="133.10" y1="549.50" x2="133.10" y2="552.00" stroke="#333" stroke-width="1.3" />
<text x="133.10" y="565.70" font-size="13.5" text-anchor="middle" fill="#111" stroke="#111" >4</text>
<polyline points="37.70,486.58 61.55,503.45 85.40,500.16 109.25,483.86 133.10,474.71" fill="none" stroke="#1a3cff" stroke-width="1.05" stroke-dasharray="1.1 1.1"/>
<line x1="37.70" y1="484.58" x2="37.70" y2="488.58" stroke="#1a3cff" stroke-width="0.9" stroke-opacity="0.6"/>
<line x1="35.20" y1="484.58" x2="40.20" y2="484.58" stroke="#1a3cff" stroke-width="0.9" stroke-opacity="0.6"/>
<line x1="35.20" y1="488.58" x2="40.20" y2="488.58" stroke="#1a3cff" stroke-width="0.9" stroke-opacity="0.6"/>
<rect x="35.60" y="484.48" width="4.2" height="4.2" fill="#1a3cff"/>
<line x1="61.55" y1="500.45" x2="61.55" y2="506.45" stroke="#1a3cff" stroke-width="0.9" stroke-opacity="0.6"/>
<line x1="59.05" y1="500.45" x2="64.05" y2="500.45" stroke="#1a3cff" stroke-width="0.9" stroke-opacity="0.6"/>
<line x1="59.05" y1="506.45" x2="64.05" y2="506.45" stroke="#1a3cff" stroke-width="0.9" stroke-opacity="0.6"/>
<rect x="59.45" y="501.35" width="4.2" height="4.2" fill="#1a3cff"/>
<line x1="85.40" y1="497.66" x2="85.40" y2="502.66" stroke="#1a3cff" stroke-width="0.9" stroke-opacity="0.6"/>
<line x1="82.90" y1="497.66" x2="87.90" y2="497.66" stroke="#1a3cff" stroke-width="0.9" stroke-opacity="0.6"/>
<line x1="82.90" y1="502.66" x2="87.90" y2="502.66" stroke="#1a3cff" stroke-width="0.9" stroke-opacity="0.6"/>
<rect x="83.30" y="498.06" width="4.2" height="4.2" fill="#1a3cff"/>
<line x1="109.25" y1="479.86" x2="109.25" y2="487.86" stroke="#1a3cff" stroke-width="0.9" stroke-opacity="0.6"/>
<line x1="106.75" y1="479.86" x2="111.75" y2="479.86" stroke="#1a3cff" stroke-width="0.9" stroke-opacity="0.6"/>
<line x1="106.75" y1="487.86" x2="111.75" y2="487.86" stroke="#1a3cff" stroke-width="0.9" stroke-opacity="0.6"/>
<rect x="107.15" y="481.76" width="4.2" height="4.2" fill="#1a3cff"/>
<line x1="133.10" y1="468.71" x2="133.10" y2="480.71" stroke="#1a3cff" stroke-width="0.9" stroke-opacity="0.6"/>
<line x1="130.60" y1="468.71" x2="135.60" y2="468.71" stroke="#1a3cff" stroke-width="0.9" stroke-opacity="0.6"/>
<line x1="130.60" y1="480.71" x2="135.60" y2="480.71" stroke="#1a3cff" stroke-width="0.9" stroke-opacity="0.6"/>
<rect x="131.00" y="472.61" width="4.2" height="4.2" fill="#1a3cff"/>
<polyline points="37.70,486.58 61.55,502.31 85.40,496.88 109.25,480.86 133.10,481.57" fill="none" stroke="#1a3cff" stroke-width="1.5" />
<line x1="37.70" y1="484.58" x2="37.70" y2="488.58" stroke="#1a3cff" stroke-width="0.9" stroke-opacity="0.6"/>
<line x1="35.20" y1="484.58" x2="40.20" y2="484.58" stroke="#1a3cff" stroke-width="0.9" stroke-opacity="0.6"/>
<line x1="35.20" y1="488.58" x2="40.20" y2="488.58" stroke="#1a3cff" stroke-width="0.9" stroke-opacity="0.6"/>
<circle cx="37.70" cy="486.58" r="2.1" fill="#1a3cff"/>
<line x1="61.55" y1="498.81" x2="61.55" y2="505.81" stroke="#1a3cff" stroke-width="0.9" stroke-opacity="0.6"/>
<line x1="59.05" y1="498.81" x2="64.05" y2="498.81" stroke="#1a3cff" stroke-width="0.9" stroke-opacity="0.6"/>
<line x1="59.05" y1="505.81" x2="64.05" y2="505.81" stroke="#1a3cff" stroke-width="0.9" stroke-opacity="0.6"/>
<circle cx="61.55" cy="502.31" r="2.1" fill="#1a3cff"/>
<line x1="85.40" y1="491.58" x2="85.40" y2="502.18" stroke="#1a3cff" stroke-width="0.9" stroke-opacity="0.6"/>
<line x1="82.90" y1="491.58" x2="87.90" y2="491.58" stroke="#1a3cff" stroke-width="0.9" stroke-opacity="0.6"/>
<line x1="82.90" y1="502.18" x2="87.90" y2="502.18" stroke="#1a3cff" stroke-width="0.9" stroke-opacity="0.6"/>
<circle cx="85.40" cy="496.88" r="2.1" fill="#1a3cff"/>
<line x1="109.25" y1="477.86" x2="109.25" y2="483.86" stroke="#1a3cff" stroke-width="0.9" stroke-opacity="0.6"/>
<line x1="106.75" y1="477.86" x2="111.75" y2="477.86" stroke="#1a3cff" stroke-width="0.9" stroke-opacity="0.6"/>
<line x1="106.75" y1="483.86" x2="111.75" y2="483.86" stroke="#1a3cff" stroke-width="0.9" stroke-opacity="0.6"/>
<circle cx="109.25" cy="480.86" r="2.1" fill="#1a3cff"/>
<line x1="133.10" y1="476.97" x2="133.10" y2="486.18" stroke="#1a3cff" stroke-width="0.9" stroke-opacity="0.6"/>
<line x1="130.60" y1="476.97" x2="135.60" y2="476.97" stroke="#1a3cff" stroke-width="0.9" stroke-opacity="0.6"/>
<line x1="130.60" y1="486.18" x2="135.60" y2="486.18" stroke="#1a3cff" stroke-width="0.9" stroke-opacity="0.6"/>
<circle cx="133.10" cy="481.57" r="2.1" fill="#1a3cff"/>
<polyline points="37.70,485.44 61.55,488.87 85.40,495.59 109.25,493.01 133.10,456.55" fill="none" stroke="#ff2010" stroke-width="1.05" stroke-dasharray="1.1 1.1"/>
<line x1="37.70" y1="482.44" x2="37.70" y2="488.44" stroke="#ff2010" stroke-width="0.9" stroke-opacity="0.6"/>
<line x1="35.20" y1="482.44" x2="40.20" y2="482.44" stroke="#ff2010" stroke-width="0.9" stroke-opacity="0.6"/>
<line x1="35.20" y1="488.44" x2="40.20" y2="488.44" stroke="#ff2010" stroke-width="0.9" stroke-opacity="0.6"/>
<rect x="35.60" y="483.34" width="4.2" height="4.2" fill="#ff2010"/>
<line x1="61.55" y1="484.27" x2="61.55" y2="493.47" stroke="#ff2010" stroke-width="0.9" stroke-opacity="0.6"/>
<line x1="59.05" y1="484.27" x2="64.05" y2="484.27" stroke="#ff2010" stroke-width="0.9" stroke-opacity="0.6"/>
<line x1="59.05" y1="493.47" x2="64.05" y2="493.47" stroke="#ff2010" stroke-width="0.9" stroke-opacity="0.6"/>
<rect x="59.45" y="486.77" width="4.2" height="4.2" fill="#ff2010"/>
<line x1="85.40" y1="485.19" x2="85.40" y2="505.99" stroke="#ff2010" stroke-width="0.9" stroke-opacity="0.6"/>
<line x1="82.90" y1="485.19" x2="87.90" y2="485.19" stroke="#ff2010" stroke-width="0.9" stroke-opacity="0.6"/>
<line x1="82.90" y1="505.99" x2="87.90" y2="505.99" stroke="#ff2010" stroke-width="0.9" stroke-opacity="0.6"/>
<rect x="83.30" y="493.49" width="4.2" height="4.2" fill="#ff2010"/>
<line x1="109.25" y1="482.31" x2="109.25" y2="503.71" stroke="#ff2010" stroke-width="0.9" stroke-opacity="0.6"/>
<line x1="106.75" y1="482.31" x2="111.75" y2="482.31" stroke="#ff2010" stroke-width="0.9" stroke-opacity="0.6"/>
<line x1="106.75" y1="503.71" x2="111.75" y2="503.71" stroke="#ff2010" stroke-width="0.9" stroke-opacity="0.6"/>
<rect x="107.15" y="490.91" width="4.2" height="4.2" fill="#ff2010"/>
<line x1="133.10" y1="446.55" x2="133.10" y2="466.55" stroke="#ff2010" stroke-width="0.9" stroke-opacity="0.6"/>
<line x1="130.60" y1="446.55" x2="135.60" y2="446.55" stroke="#ff2010" stroke-width="0.9" stroke-opacity="0.6"/>
<line x1="130.60" y1="466.55" x2="135.60" y2="466.55" stroke="#ff2010" stroke-width="0.9" stroke-opacity="0.6"/>
<rect x="131.00" y="454.45" width="4.2" height="4.2" fill="#ff2010"/>
<polyline points="37.70,485.44 61.55,514.47 85.40,475.14 109.25,478.14 133.10,496.16" fill="none" stroke="#ff2010" stroke-width="1.5" />
<line x1="37.70" y1="482.04" x2="37.70" y2="488.84" stroke="#ff2010" stroke-width="0.9" stroke-opacity="0.6"/>
<line x1="35.20" y1="482.04" x2="40.20" y2="482.04" stroke="#ff2010" stroke-width="0.9" stroke-opacity="0.6"/>
<line x1="35.20" y1="488.84" x2="40.20" y2="488.84" stroke="#ff2010" stroke-width="0.9" stroke-opacity="0.6"/>
<circle cx="37.70" cy="485.44" r="2.1" fill="#ff2010"/>
<line x1="61.55" y1="511.47" x2="61.55" y2="517.47" stroke="#ff2010" stroke-width="0.9" stroke-opacity="0.6"/>
<line x1="59.05" y1="511.47" x2="64.05" y2="511.47" stroke="#ff2010" stroke-width="0.9" stroke-opacity="0.6"/>
<line x1="59.05" y1="517.47" x2="64.05" y2="517.47" stroke="#ff2010" stroke-width="0.9" stroke-opacity="0.6"/>
<circle cx="61.55" cy="514.47" r="2.1" fill="#ff2010"/>
<line x1="85.40" y1="468.54" x2="85.40" y2="481.74" stroke="#ff2010" stroke-width="0.9" stroke-opacity="0.6"/>
<line x1="82.90" y1="468.54" x2="87.90" y2="468.54" stroke="#ff2010" stroke-width="0.9" stroke-opacity="0.6"/>
<line x1="82.90" y1="481.74" x2="87.90" y2="481.74" stroke="#ff2010" stroke-width="0.9" stroke-opacity="0.6"/>
<circle cx="85.40" cy="475.14" r="2.1" fill="#ff2010"/>
<line x1="109.25" y1="470.04" x2="109.25" y2="486.24" stroke="#ff2010" stroke-width="0.9" stroke-opacity="0.6"/>
<line x1="106.75" y1="470.04" x2="111.75" y2="470.04" stroke="#ff2010" stroke-width="0.9" stroke-opacity="0.6"/>
<line x1="106.75" y1="486.24" x2="111.75" y2="486.24" stroke="#ff2010" stroke-width="0.9" stroke-opacity="0.6"/>
<circle cx="109.25" cy="478.14" r="2.1" fill="#ff2010"/>
<line x1="133.10" y1="479.36" x2="133.10" y2="512.96" stroke="#ff2010" stroke-width="0.9" stroke-opacity="0.6"/>
<line x1="130.60" y1="479.36" x2="135.60" y2="479.36" stroke="#ff2010" stroke-width="0.9" stroke-opacity="0.6"/>
<line x1="130.60" y1="512.96" x2="135.60" y2="512.96" stroke="#ff2010" stroke-width="0.9" stroke-opacity="0.6"/>
<circle cx="133.10" cy="496.16" r="2.1" fill="#ff2010"/>
<line x1="180.50" y1="458.88" x2="274.20" y2="458.88" stroke="#555" stroke-width="1.2" stroke-dasharray="1.2 1.2"/>
<line x1="179.00" y1="407.42" x2="179.00" y2="551.00" stroke="#333" stroke-width="1.3" />
<line x1="178.40" y1="550.40" x2="274.80" y2="550.40" stroke="#333" stroke-width="1.3" />
<line x1="176.50" y1="550.40" x2="179.00" y2="550.40" stroke="#333" stroke-width="1.3" />
<text x="175.20" y="555.19" font-size="13.5" text-anchor="end" fill="#111" stroke="#111" >0</text>
<line x1="176.50" y1="524.40" x2="179.00" y2="524.40" stroke="#333" stroke-width="1.3" />
<text x="175.20" y="529.19" font-size="13.5" text-anchor="end" fill="#111" stroke="#111" >10</text>
<line x1="176.50" y1="498.40" x2="179.00" y2="498.40" stroke="#333" stroke-width="1.3" />
<text x="175.20" y="503.19" font-size="13.5" text-anchor="end" fill="#111" stroke="#111" >20</text>
<line x1="176.50" y1="472.40" x2="179.00" y2="472.40" stroke="#333" stroke-width="1.3" />
<text x="175.20" y="477.19" font-size="13.5" text-anchor="end" fill="#111" stroke="#111" >30</text>
<line x1="176.50" y1="446.40" x2="179.00" y2="446.40" stroke="#333" stroke-width="1.3" />
<text x="175.20" y="451.19" font-size="13.5" text-anchor="end" fill="#111" stroke="#111" >40</text>
<line x1="176.50" y1="420.40" x2="179.00" y2="420.40" stroke="#333" stroke-width="1.3" />
<text x="175.20" y="425.19" font-size="13.5" text-anchor="end" fill="#111" stroke="#111" >50</text>
<line x1="179.00" y1="550.40" x2="179.00" y2="552.90" stroke="#333" stroke-width="1.3" />
<text x="179.00" y="566.60" font-size="13.5" text-anchor="middle" fill="#111" stroke="#111" >0</text>
<line x1="202.80" y1="550.40" x2="202.80" y2="552.90" stroke="#333" stroke-width="1.3" />
<text x="202.80" y="566.60" font-size="13.5" text-anchor="middle" fill="#111" stroke="#111" >1</text>
<line x1="226.60" y1="550.40" x2="226.60" y2="552.90" stroke="#333" stroke-width="1.3" />
<text x="226.60" y="566.60" font-size="13.5" text-anchor="middle" fill="#111" stroke="#111" >2</text>
<line x1="250.40" y1="550.40" x2="250.40" y2="552.90" stroke="#333" stroke-width="1.3" />
<text x="250.40" y="566.60" font-size="13.5" text-anchor="middle" fill="#111" stroke="#111" >3</text>
<line x1="274.20" y1="550.40" x2="274.20" y2="552.90" stroke="#333" stroke-width="1.3" />
<text x="274.20" y="566.60" font-size="13.5" text-anchor="middle" fill="#111" stroke="#111" >4</text>
<polyline points="179.00,437.30 202.80,450.82 226.60,422.74 250.40,448.22 274.20,444.58" fill="none" stroke="#1a3cff" stroke-width="1.05" stroke-dasharray="1.1 1.1"/>
<line x1="179.00" y1="435.30" x2="179.00" y2="439.30" stroke="#1a3cff" stroke-width="0.9" stroke-opacity="0.6"/>
<line x1="176.50" y1="435.30" x2="181.50" y2="435.30" stroke="#1a3cff" stroke-width="0.9" stroke-opacity="0.6"/>
<line x1="176.50" y1="439.30" x2="181.50" y2="439.30" stroke="#1a3cff" stroke-width="0.9" stroke-opacity="0.6"/>
<rect x="176.90" y="435.20" width="4.2" height="4.2" fill="#1a3cff"/>
<line x1="202.80" y1="448.82" x2="202.80" y2="452.82" stroke="#1a3cff" stroke-width="0.9" stroke-opacity="0.6"/>
<line x1="200.30" y1="448.82" x2="205.30" y2="448.82" stroke="#1a3cff" stroke-width="0.9" stroke-opacity="0.6"/>
<line x1="200.30" y1="452.82" x2="205.30" y2="452.82" stroke="#1a3cff" stroke-width="0.9" stroke-opacity="0.6"/>
<rect x="200.70" y="448.72" width="4.2" height="4.2" fill="#1a3cff"/>
<line x1="226.60" y1="419.74" x2="226.60" y2="425.74" stroke="#1a3cff" stroke-width="0.9" stroke-opacity="0.6"/>
<line x1="224.10" y1="419.74" x2="229.10" y2="419.74" stroke="#1a3cff" stroke-width="0.9" stroke-opacity="0.6"/>
<line x1="224.10" y1="425.74" x2="229.10" y2="425.74" stroke="#1a3cff" stroke-width="0.9" stroke-opacity="0.6"/>
<rect x="224.50" y="420.64" width="4.2" height="4.2" fill="#1a3cff"/>
<line x1="250.40" y1="446.72" x2="250.40" y2="449.72" stroke="#1a3cff" stroke-width="0.9" stroke-opacity="0.6"/>
<line x1="247.90" y1="446.72" x2="252.90" y2="446.72" stroke="#1a3cff" stroke-width="0.9" stroke-opacity="0.6"/>
<line x1="247.90" y1="449.72" x2="252.90" y2="449.72" stroke="#1a3cff" stroke-width="0.9" stroke-opacity="0.6"/>
<rect x="248.30" y="446.12" width="4.2" height="4.2" fill="#1a3cff"/>
<line x1="274.20" y1="443.08" x2="274.20" y2="446.08" stroke="#1a3cff" stroke-width="0.9" stroke-opacity="0.6"/>
<line x1="271.70" y1="443.08" x2="276.70" y2="443.08" stroke="#1a3cff" stroke-width="0.9" stroke-opacity="0.6"/>
<line x1="271.70" y1="446.08" x2="276.70" y2="446.08" stroke="#1a3cff" stroke-width="0.9" stroke-opacity="0.6"/>
<rect x="272.10" y="442.48" width="4.2" height="4.2" fill="#1a3cff"/>
<polyline points="179.00,437.30 202.80,450.82 226.60,428.72 250.40,449.78 274.20,445.10" fill="none" stroke="#1a3cff" stroke-width="1.5" />
<line x1="179.00" y1="435.30" x2="179.00" y2="439.30" stroke="#1a3cff" stroke-width="0.9" stroke-opacity="0.6"/>
<line x1="176.50" y1="435.30" x2="181.50" y2="435.30" stroke="#1a3cff" stroke-width="0.9" stroke-opacity="0.6"/>
<line x1="176.50" y1="439.30" x2="181.50" y2="439.30" stroke="#1a3cff" stroke-width="0.9" stroke-opacity="0.6"/>
<circle cx="179.00" cy="437.30" r="2.1" fill="#1a3cff"/>
<line x1="202.80" y1="448.82" x2="202.80" y2="452.82" stroke="#1a3cff" stroke-width="0.9" stroke-opacity="0.6"/>
<line x1="200.30" y1="448.82" x2="205.30" y2="448.82" stroke="#1a3cff" stroke-width="0.9" stroke-opacity="0.6"/>
<line x1="200.30" y1="452.82" x2="205.30" y2="452.82" stroke="#1a3cff" stroke-width="0.9" stroke-opacity="0.6"/>
<circle cx="202.80" cy="450.82" r="2.1" fill="#1a3cff"/>
<line x1="226.60" y1="425.72" x2="226.60" y2="431.72" stroke="#1a3cff" stroke-width="0.9" stroke-opacity="0.6"/>
<line x1="224.10" y1="425.72" x2="229.10" y2="425.72" stroke="#1a3cff" stroke-width="0.9" stroke-opacity="0.6"/>
<line x1="224.10" y1="431.72" x2="229.10" y2="431.72" stroke="#1a3cff" stroke-width="0.9" stroke-opacity="0.6"/>
<circle cx="226.60" cy="428.72" r="2.1" fill="#1a3cff"/>
<line x1="250.40" y1="448.28" x2="250.40" y2="451.28" stroke="#1a3cff" stroke-width="0.9" stroke-opacity="0.6"/>
<line x1="247.90" y1="448.28" x2="252.90" y2="448.28" stroke="#1a3cff" stroke-width="0.9" stroke-opacity="0.6"/>
<line x1="247.90" y1="451.28" x2="252.90" y2="451.28" stroke="#1a3cff" stroke-width="0.9" stroke-opacity="0.6"/>
<circle cx="250.40" cy="449.78" r="2.1" fill="#1a3cff"/>
<line x1="274.20" y1="443.60" x2="274.20" y2="446.60" stroke="#1a3cff" stroke-width="0.9" stroke-opacity="0.6"/>
<line x1="271.70" y1="443.60" x2="276.70" y2="443.60" stroke="#1a3cff" stroke-width="0.9" stroke-opacity="0.6"/>
<line x1="271.70" y1="446.60" x2="276.70" y2="446.60" stroke="#1a3cff" stroke-width="0.9" stroke-opacity="0.6"/>
<circle cx="274.20" cy="445.10" r="2.1" fill="#1a3cff"/>
<polyline points="179.00,437.30 202.80,445.62 226.60,437.30 250.40,446.40 274.20,444.32" fill="none" stroke="#ff2010" stroke-width="1.05" stroke-dasharray="1.1 1.1"/>
<line x1="179.00" y1="434.80" x2="179.00" y2="439.80" stroke="#ff2010" stroke-width="0.9" stroke-opacity="0.6"/>
<line x1="176.50" y1="434.80" x2="181.50" y2="434.80" stroke="#ff2010" stroke-width="0.9" stroke-opacity="0.6"/>
<line x1="176.50" y1="439.80" x2="181.50" y2="439.80" stroke="#ff2010" stroke-width="0.9" stroke-opacity="0.6"/>
<rect x="176.90" y="435.20" width="4.2" height="4.2" fill="#ff2010"/>
<line x1="202.80" y1="443.62" x2="202.80" y2="447.62" stroke="#ff2010" stroke-width="0.9" stroke-opacity="0.6"/>
<line x1="200.30" y1="443.62" x2="205.30" y2="443.62" stroke="#ff2010" stroke-width="0.9" stroke-opacity="0.6"/>
<line x1="200.30" y1="447.62" x2="205.30" y2="447.62" stroke="#ff2010" stroke-width="0.9" stroke-opacity="0.6"/>
<rect x="200.70" y="443.52" width="4.2" height="4.2" fill="#ff2010"/>
<line x1="226.60" y1="428.30" x2="226.60" y2="446.30" stroke="#ff2010" stroke-width="0.9" stroke-opacity="0.6"/>
<line x1="224.10" y1="428.30" x2="229.10" y2="428.30" stroke="#ff2010" stroke-width="0.9" stroke-opacity="0.6"/>
<line x1="224.10" y1="446.30" x2="229.10" y2="446.30" stroke="#ff2010" stroke-width="0.9" stroke-opacity="0.6"/>
<rect x="224.50" y="435.20" width="4.2" height="4.2" fill="#ff2010"/>
<line x1="250.40" y1="444.90" x2="250.40" y2="447.90" stroke="#ff2010" stroke-width="0.9" stroke-opacity="0.6"/>
<line x1="247.90" y1="444.90" x2="252.90" y2="444.90" stroke="#ff2010" stroke-width="0.9" stroke-opacity="0.6"/>
<line x1="247.90" y1="447.90" x2="252.90" y2="447.90" stroke="#ff2010" stroke-width="0.9" stroke-opacity="0.6"/>
<rect x="248.30" y="444.30" width="4.2" height="4.2" fill="#ff2010"/>
<line x1="274.20" y1="441.82" x2="274.20" y2="446.82" stroke="#ff2010" stroke-width="0.9" stroke-opacity="0.6"/>
<line x1="271.70" y1="441.82" x2="276.70" y2="441.82" stroke="#ff2010" stroke-width="0.9" stroke-opacity="0.6"/>
<line x1="271.70" y1="446.82" x2="276.70" y2="446.82" stroke="#ff2010" stroke-width="0.9" stroke-opacity="0.6"/>
<rect x="272.10" y="442.22" width="4.2" height="4.2" fill="#ff2010"/>
<polyline points="179.00,437.30 202.80,450.56 226.60,439.64 250.40,446.66 274.20,446.40" fill="none" stroke="#ff2010" stroke-width="1.5" />
<line x1="179.00" y1="433.50" x2="179.00" y2="441.10" stroke="#ff2010" stroke-width="0.9" stroke-opacity="0.6"/>
<line x1="176.50" y1="433.50" x2="181.50" y2="433.50" stroke="#ff2010" stroke-width="0.9" stroke-opacity="0.6"/>
<line x1="176.50" y1="441.10" x2="181.50" y2="441.10" stroke="#ff2010" stroke-width="0.9" stroke-opacity="0.6"/>
<circle cx="179.00" cy="437.30" r="2.1" fill="#ff2010"/>
<line x1="202.80" y1="448.56" x2="202.80" y2="452.56" stroke="#ff2010" stroke-width="0.9" stroke-opacity="0.6"/>
<line x1="200.30" y1="448.56" x2="205.30" y2="448.56" stroke="#ff2010" stroke-width="0.9" stroke-opacity="0.6"/>
<line x1="200.30" y1="452.56" x2="205.30" y2="452.56" stroke="#ff2010" stroke-width="0.9" stroke-opacity="0.6"/>
<circle cx="202.80" cy="450.56" r="2.1" fill="#ff2010"/>
<line x1="226.60" y1="435.04" x2="226.60" y2="444.24" stroke="#ff2010" stroke-width="0.9" stroke-opacity="0.6"/>
<line x1="224.10" y1="435.04" x2="229.10" y2="435.04" stroke="#ff2010" stroke-width="0.9" stroke-opacity="0.6"/>
<line x1="224.10" y1="444.24" x2="229.10" y2="444.24" stroke="#ff2010" stroke-width="0.9" stroke-opacity="0.6"/>
<circle cx="226.60" cy="439.64" r="2.1" fill="#ff2010"/>
<line x1="250.40" y1="444.66" x2="250.40" y2="448.66" stroke="#ff2010" stroke-width="0.9" stroke-opacity="0.6"/>
<line x1="247.90" y1="444.66" x2="252.90" y2="444.66" stroke="#ff2010" stroke-width="0.9" stroke-opacity="0.6"/>
<line x1="247.90" y1="448.66" x2="252.90" y2="448.66" stroke="#ff2010" stroke-width="0.9" stroke-opacity="0.6"/>
<circle cx="250.40" cy="446.66" r="2.1" fill="#ff2010"/>
<line x1="274.20" y1="444.40" x2="274.20" y2="448.40" stroke="#ff2010" stroke-width="0.9" stroke-opacity="0.6"/>
<line x1="271.70" y1="444.40" x2="276.70" y2="444.40" stroke="#ff2010" stroke-width="0.9" stroke-opacity="0.6"/>
<line x1="271.70" y1="448.40" x2="276.70" y2="448.40" stroke="#ff2010" stroke-width="0.9" stroke-opacity="0.6"/>
<circle cx="274.20" cy="446.40" r="2.1" fill="#ff2010"/>
<line x1="343.70" y1="496.94" x2="433.40" y2="496.94" stroke="#555" stroke-width="1.2" stroke-dasharray="1.2 1.2"/>
<line x1="342.20" y1="410.70" x2="342.20" y2="548.20" stroke="#333" stroke-width="1.3" />
<line x1="341.60" y1="547.60" x2="434.00" y2="547.60" stroke="#333" stroke-width="1.3" />
<line x1="339.70" y1="547.60" x2="342.20" y2="547.60" stroke="#333" stroke-width="1.3" />
<text x="338.40" y="552.39" font-size="13.5" text-anchor="end" fill="#111" stroke="#111" >0</text>
<line x1="339.70" y1="528.11" x2="342.20" y2="528.11" stroke="#333" stroke-width="1.3" />
<text x="338.40" y="532.91" font-size="13.5" text-anchor="end" fill="#111" stroke="#111" >200</text>
<line x1="339.70" y1="508.63" x2="342.20" y2="508.63" stroke="#333" stroke-width="1.3" />
<text x="338.40" y="513.42" font-size="13.5" text-anchor="end" fill="#111" stroke="#111" >400</text>
<line x1="339.70" y1="489.14" x2="342.20" y2="489.14" stroke="#333" stroke-width="1.3" />
<text x="338.40" y="493.94" font-size="13.5" text-anchor="end" fill="#111" stroke="#111" >600</text>
<line x1="339.70" y1="469.66" x2="342.20" y2="469.66" stroke="#333" stroke-width="1.3" />
<text x="338.40" y="474.45" font-size="13.5" text-anchor="end" fill="#111" stroke="#111" >800</text>
<line x1="339.70" y1="450.17" x2="342.20" y2="450.17" stroke="#333" stroke-width="1.3" />
<text x="338.40" y="454.96" font-size="13.5" text-anchor="end" fill="#111" stroke="#111" >1000</text>
<line x1="339.70" y1="430.69" x2="342.20" y2="430.69" stroke="#333" stroke-width="1.3" />
<text x="338.40" y="435.48" font-size="13.5" text-anchor="end" fill="#111" stroke="#111" >1200</text>
<line x1="339.70" y1="411.20" x2="342.20" y2="411.20" stroke="#333" stroke-width="1.3" />
<text x="338.40" y="415.99" font-size="13.5" text-anchor="end" fill="#111" stroke="#111" >1400</text>
<line x1="342.20" y1="547.60" x2="342.20" y2="550.10" stroke="#333" stroke-width="1.3" />
<text x="342.20" y="563.10" font-size="13.5" text-anchor="middle" fill="#111" stroke="#111" >0</text>
<line x1="365.00" y1="547.60" x2="365.00" y2="550.10" stroke="#333" stroke-width="1.3" />
<text x="365.00" y="563.10" font-size="13.5" text-anchor="middle" fill="#111" stroke="#111" >1</text>
<line x1="387.80" y1="547.60" x2="387.80" y2="550.10" stroke="#333" stroke-width="1.3" />
<text x="387.80" y="563.10" font-size="13.5" text-anchor="middle" fill="#111" stroke="#111" >2</text>
<line x1="410.60" y1="547.60" x2="410.60" y2="550.10" stroke="#333" stroke-width="1.3" />
<text x="410.60" y="563.10" font-size="13.5" text-anchor="middle" fill="#111" stroke="#111" >3</text>
<line x1="433.40" y1="547.60" x2="433.40" y2="550.10" stroke="#333" stroke-width="1.3" />
<text x="433.40" y="563.10" font-size="13.5" text-anchor="middle" fill="#111" stroke="#111" >4</text>
<polyline points="342.20,464.01 365.00,468.39 387.80,458.65 410.60,463.62 433.40,438.67" fill="none" stroke="#1a3cff" stroke-width="1.05" stroke-dasharray="1.1 1.1"/>
<line x1="342.20" y1="461.51" x2="342.20" y2="466.51" stroke="#1a3cff" stroke-width="0.9" stroke-opacity="0.6"/>
<line x1="339.70" y1="461.51" x2="344.70" y2="461.51" stroke="#1a3cff" stroke-width="0.9" stroke-opacity="0.6"/>
<line x1="339.70" y1="466.51" x2="344.70" y2="466.51" stroke="#1a3cff" stroke-width="0.9" stroke-opacity="0.6"/>
<rect x="340.10" y="461.91" width="4.2" height="4.2" fill="#1a3cff"/>
<line x1="365.00" y1="465.39" x2="365.00" y2="471.39" stroke="#1a3cff" stroke-width="0.9" stroke-opacity="0.6"/>
<line x1="362.50" y1="465.39" x2="367.50" y2="465.39" stroke="#1a3cff" stroke-width="0.9" stroke-opacity="0.6"/>
<line x1="362.50" y1="471.39" x2="367.50" y2="471.39" stroke="#1a3cff" stroke-width="0.9" stroke-opacity="0.6"/>
<rect x="362.90" y="466.29" width="4.2" height="4.2" fill="#1a3cff"/>
<line x1="387.80" y1="453.65" x2="387.80" y2="463.65" stroke="#1a3cff" stroke-width="0.9" stroke-opacity="0.6"/>
<line x1="385.30" y1="453.65" x2="390.30" y2="453.65" stroke="#1a3cff" stroke-width="0.9" stroke-opacity="0.6"/>
<line x1="385.30" y1="463.65" x2="390.30" y2="463.65" stroke="#1a3cff" stroke-width="0.9" stroke-opacity="0.6"/>
<rect x="385.70" y="456.55" width="4.2" height="4.2" fill="#1a3cff"/>
<line x1="410.60" y1="460.62" x2="410.60" y2="466.62" stroke="#1a3cff" stroke-width="0.9" stroke-opacity="0.6"/>
<line x1="408.10" y1="460.62" x2="413.10" y2="460.62" stroke="#1a3cff" stroke-width="0.9" stroke-opacity="0.6"/>
<line x1="408.10" y1="466.62" x2="413.10" y2="466.62" stroke="#1a3cff" stroke-width="0.9" stroke-opacity="0.6"/>
<rect x="408.50" y="461.52" width="4.2" height="4.2" fill="#1a3cff"/>
<line x1="433.40" y1="434.67" x2="433.40" y2="442.67" stroke="#1a3cff" stroke-width="0.9" stroke-opacity="0.6"/>
<line x1="430.90" y1="434.67" x2="435.90" y2="434.67" stroke="#1a3cff" stroke-width="0.9" stroke-opacity="0.6"/>
<line x1="430.90" y1="442.67" x2="435.90" y2="442.67" stroke="#1a3cff" stroke-width="0.9" stroke-opacity="0.6"/>
<rect x="431.30" y="436.57" width="4.2" height="4.2" fill="#1a3cff"/>
<polyline points="342.20,464.01 365.00,479.11 387.80,469.36 410.60,469.85 433.40,447.93" fill="none" stroke="#1a3cff" stroke-width="1.5" />
<line x1="342.20" y1="461.51" x2="342.20" y2="466.51" stroke="#1a3cff" stroke-width="0.9" stroke-opacity="0.6"/>
<line x1="339.70" y1="461.51" x2="344.70" y2="461.51" stroke="#1a3cff" stroke-width="0.9" stroke-opacity="0.6"/>
<line x1="339.70" y1="466.51" x2="344.70" y2="466.51" stroke="#1a3cff" stroke-width="0.9" stroke-opacity="0.6"/>
<circle cx="342.20" cy="464.01" r="2.1" fill="#1a3cff"/>
<line x1="365.00" y1="475.61" x2="365.00" y2="482.61" stroke="#1a3cff" stroke-width="0.9" stroke-opacity="0.6"/>
<line x1="362.50" y1="475.61" x2="367.50" y2="475.61" stroke="#1a3cff" stroke-width="0.9" stroke-opacity="0.6"/>
<line x1="362.50" y1="482.61" x2="367.50" y2="482.61" stroke="#1a3cff" stroke-width="0.9" stroke-opacity="0.6"/>
<circle cx="365.00" cy="479.11" r="2.1" fill="#1a3cff"/>
<line x1="387.80" y1="464.36" x2="387.80" y2="474.36" stroke="#1a3cff" stroke-width="0.9" stroke-opacity="0.6"/>
<line x1="385.30" y1="464.36" x2="390.30" y2="464.36" stroke="#1a3cff" stroke-width="0.9" stroke-opacity="0.6"/>
<line x1="385.30" y1="474.36" x2="390.30" y2="474.36" stroke="#1a3cff" stroke-width="0.9" stroke-opacity="0.6"/>
<circle cx="387.80" cy="469.36" r="2.1" fill="#1a3cff"/>
<line x1="410.60" y1="466.85" x2="410.60" y2="472.85" stroke="#1a3cff" stroke-width="0.9" stroke-opacity="0.6"/>
<line x1="408.10" y1="466.85" x2="413.10" y2="466.85" stroke="#1a3cff" stroke-width="0.9" stroke-opacity="0.6"/>
<line x1="408.10" y1="472.85" x2="413.10" y2="472.85" stroke="#1a3cff" stroke-width="0.9" stroke-opacity="0.6"/>
<circle cx="410.60" cy="469.85" r="2.1" fill="#1a3cff"/>
<line x1="433.40" y1="441.43" x2="433.40" y2="454.43" stroke="#1a3cff" stroke-width="0.9" stroke-opacity="0.6"/>
<line x1="430.90" y1="441.43" x2="435.90" y2="441.43" stroke="#1a3cff" stroke-width="0.9" stroke-opacity="0.6"/>
<line x1="430.90" y1="454.43" x2="435.90" y2="454.43" stroke="#1a3cff" stroke-width="0.9" stroke-opacity="0.6"/>
<circle cx="433.40" cy="447.93" r="2.1" fill="#1a3cff"/>
<polyline points="342.20,464.01 365.00,462.93 387.80,465.08 410.60,464.79 433.40,443.55" fill="none" stroke="#ff2010" stroke-width="1.05" stroke-dasharray="1.1 1.1"/>
<line x1="342.20" y1="461.01" x2="342.20" y2="467.01" stroke="#ff2010" stroke-width="0.9" stroke-opacity="0.6"/>
<line x1="339.70" y1="461.01" x2="344.70" y2="461.01" stroke="#ff2010" stroke-width="0.9" stroke-opacity="0.6"/>
<line x1="339.70" y1="467.01" x2="344.70" y2="467.01" stroke="#ff2010" stroke-width="0.9" stroke-opacity="0.6"/>
<rect x="340.10" y="461.91" width="4.2" height="4.2" fill="#ff2010"/>
<line x1="365.00" y1="458.93" x2="365.00" y2="466.93" stroke="#ff2010" stroke-width="0.9" stroke-opacity="0.6"/>
<line x1="362.50" y1="458.93" x2="367.50" y2="458.93" stroke="#ff2010" stroke-width="0.9" stroke-opacity="0.6"/>
<line x1="362.50" y1="466.93" x2="367.50" y2="466.93" stroke="#ff2010" stroke-width="0.9" stroke-opacity="0.6"/>
<rect x="362.90" y="460.83" width="4.2" height="4.2" fill="#ff2010"/>
<line x1="387.80" y1="459.08" x2="387.80" y2="471.08" stroke="#ff2010" stroke-width="0.9" stroke-opacity="0.6"/>
<line x1="385.30" y1="459.08" x2="390.30" y2="459.08" stroke="#ff2010" stroke-width="0.9" stroke-opacity="0.6"/>
<line x1="385.30" y1="471.08" x2="390.30" y2="471.08" stroke="#ff2010" stroke-width="0.9" stroke-opacity="0.6"/>
<rect x="385.70" y="462.98" width="4.2" height="4.2" fill="#ff2010"/>
<line x1="410.60" y1="461.79" x2="410.60" y2="467.79" stroke="#ff2010" stroke-width="0.9" stroke-opacity="0.6"/>
<line x1="408.10" y1="461.79" x2="413.10" y2="461.79" stroke="#ff2010" stroke-width="0.9" stroke-opacity="0.6"/>
<line x1="408.10" y1="467.79" x2="413.10" y2="467.79" stroke="#ff2010" stroke-width="0.9" stroke-opacity="0.6"/>
<rect x="408.50" y="462.69" width="4.2" height="4.2" fill="#ff2010"/>
<line x1="433.40" y1="438.55" x2="433.40" y2="448.55" stroke="#ff2010" stroke-width="0.9" stroke-opacity="0.6"/>
<line x1="430.90" y1="438.55" x2="435.90" y2="438.55" stroke="#ff2010" stroke-width="0.9" stroke-opacity="0.6"/>
<line x1="430.90" y1="448.55" x2="435.90" y2="448.55" stroke="#ff2010" stroke-width="0.9" stroke-opacity="0.6"/>
<rect x="431.30" y="441.45" width="4.2" height="4.2" fill="#ff2010"/>
<polyline points="342.20,464.01 365.00,460.79 387.80,460.40 410.60,464.01 433.40,466.64" fill="none" stroke="#ff2010" stroke-width="1.5" />
<line x1="342.20" y1="460.51" x2="342.20" y2="467.51" stroke="#ff2010" stroke-width="0.9" stroke-opacity="0.6"/>
<line x1="339.70" y1="460.51" x2="344.70" y2="460.51" stroke="#ff2010" stroke-width="0.9" stroke-opacity="0.6"/>
<line x1="339.70" y1="467.51" x2="344.70" y2="467.51" stroke="#ff2010" stroke-width="0.9" stroke-opacity="0.6"/>
<circle cx="342.20" cy="464.01" r="2.1" fill="#ff2010"/>
<line x1="365.00" y1="457.29" x2="365.00" y2="464.29" stroke="#ff2010" stroke-width="0.9" stroke-opacity="0.6"/>
<line x1="362.50" y1="457.29" x2="367.50" y2="457.29" stroke="#ff2010" stroke-width="0.9" stroke-opacity="0.6"/>
<line x1="362.50" y1="464.29" x2="367.50" y2="464.29" stroke="#ff2010" stroke-width="0.9" stroke-opacity="0.6"/>
<circle cx="365.00" cy="460.79" r="2.1" fill="#ff2010"/>
<line x1="387.80" y1="457.90" x2="387.80" y2="462.90" stroke="#ff2010" stroke-width="0.9" stroke-opacity="0.6"/>
<line x1="385.30" y1="457.90" x2="390.30" y2="457.90" stroke="#ff2010" stroke-width="0.9" stroke-opacity="0.6"/>
<line x1="385.30" y1="462.90" x2="390.30" y2="462.90" stroke="#ff2010" stroke-width="0.9" stroke-opacity="0.6"/>
<circle cx="387.80" cy="460.40" r="2.1" fill="#ff2010"/>
<line x1="410.60" y1="461.51" x2="410.60" y2="466.51" stroke="#ff2010" stroke-width="0.9" stroke-opacity="0.6"/>
<line x1="408.10" y1="461.51" x2="413.10" y2="461.51" stroke="#ff2010" stroke-width="0.9" stroke-opacity="0.6"/>
<line x1="408.10" y1="466.51" x2="413.10" y2="466.51" stroke="#ff2010" stroke-width="0.9" stroke-opacity="0.6"/>
<circle cx="410.60" cy="464.01" r="2.1" fill="#ff2010"/>
<line x1="433.40" y1="462.64" x2="433.40" y2="470.64" stroke="#ff2010" stroke-width="0.9" stroke-opacity="0.6"/>
<line x1="430.90" y1="462.64" x2="435.90" y2="462.64" stroke="#ff2010" stroke-width="0.9" stroke-opacity="0.6"/>
<line x1="430.90" y1="470.64" x2="435.90" y2="470.64" stroke="#ff2010" stroke-width="0.9" stroke-opacity="0.6"/>
<circle cx="433.40" cy="466.64" r="2.1" fill="#ff2010"/>
<line x1="446.60" y1="413.70" x2="454.60" y2="413.70" stroke="#ff2010" stroke-width="1.3" />
<circle cx="450.60" cy="413.70" r="1.9" fill="#ff2010"/>
<text x="458.40" y="418.38" font-size="13" text-anchor="start" fill="#111" stroke="#111" >CD45.2-PNU (n = 11)</text>
<line x1="446.60" y1="431.80" x2="454.60" y2="431.80" stroke="#ff2010" stroke-width="1.3" stroke-dasharray="1.1 1.1"/>
<rect x="448.70" y="429.90" width="3.8" height="3.8" fill="#ff2010"/>
<text x="458.40" y="436.48" font-size="13" text-anchor="start" fill="#111" stroke="#111" >CD45.1-PNU (n = 8)</text>
<line x1="446.60" y1="449.50" x2="454.60" y2="449.50" stroke="#1a3cff" stroke-width="1.3" />
<circle cx="450.60" cy="449.50" r="1.9" fill="#1a3cff"/>
<text x="458.40" y="454.18" font-size="13" text-anchor="start" fill="#111" stroke="#111" >CD45.2-PBD (n = 10)</text>
<line x1="446.60" y1="467.10" x2="454.60" y2="467.10" stroke="#1a3cff" stroke-width="1.3" stroke-dasharray="1.1 1.1"/>
<rect x="448.70" y="465.20" width="3.8" height="3.8" fill="#1a3cff"/>
<text x="458.40" y="471.78" font-size="13" text-anchor="start" fill="#111" stroke="#111" >CD45.1-PBD (n = 10)</text>
<rect x="250.47" y="61.63" width="2.59" height="3.17" fill="#efefef"/><rect x="254.32" y="61.63" width="2.55" height="3.17" fill="#efefef"/>
<rect x="275.39" y="61.63" width="2.59" height="3.17" fill="#efefef"/><rect x="279.24" y="61.63" width="2.55" height="3.17" fill="#efefef"/>
<rect x="26.42" y="315.59" width="2.85" height="3.29" fill="#fff"/><rect x="30.66" y="315.59" width="2.80" height="3.29" fill="#fff"/>
<rect x="19.18" y="194.73" width="2.85" height="3.29" fill="#fff"/><rect x="23.42" y="194.73" width="2.80" height="3.29" fill="#fff"/>
<rect x="63.30" y="339.21" width="2.85" height="3.29" fill="#fff"/><rect x="67.54" y="339.21" width="2.80" height="3.29" fill="#fff"/>
<rect x="306.52" y="312.89" width="2.85" height="3.29" fill="#fff"/><rect x="310.76" y="312.89" width="2.80" height="3.29" fill="#fff"/>
<rect x="299.28" y="191.93" width="2.85" height="3.29" fill="#fff"/><rect x="303.52" y="191.93" width="2.80" height="3.29" fill="#fff"/>
<rect x="343.37" y="336.41" width="2.85" height="3.29" fill="#fff"/><rect x="347.61" y="336.41" width="2.80" height="3.29" fill="#fff"/>
<rect x="456.82" y="311.40" width="2.85" height="3.29" fill="#fff"/><rect x="461.06" y="311.40" width="2.80" height="3.29" fill="#fff"/>
<rect x="449.58" y="190.63" width="2.85" height="3.29" fill="#fff"/><rect x="453.82" y="190.63" width="2.80" height="3.29" fill="#fff"/>
<rect x="493.62" y="334.91" width="2.85" height="3.29" fill="#fff"/><rect x="497.86" y="334.91" width="2.80" height="3.29" fill="#fff"/>
<rect x="607.32" y="311.40" width="2.85" height="3.29" fill="#fff"/><rect x="611.56" y="311.40" width="2.80" height="3.29" fill="#fff"/>
<rect x="600.08" y="190.63" width="2.85" height="3.29" fill="#fff"/><rect x="604.32" y="190.63" width="2.80" height="3.29" fill="#fff"/>
<rect x="644.07" y="334.91" width="2.85" height="3.29" fill="#fff"/><rect x="648.31" y="334.91" width="2.80" height="3.29" fill="#fff"/>
<rect x="262.72" y="206.49" width="2.85" height="3.29" fill="#fff"/><rect x="266.96" y="206.49" width="2.80" height="3.29" fill="#fff"/>
<rect x="268.98" y="206.49" width="2.85" height="3.29" fill="#fff"/><rect x="273.22" y="206.49" width="2.80" height="3.29" fill="#fff"/>
<rect x="193.73" y="219.69" width="2.85" height="3.29" fill="#fff"/><rect x="197.97" y="219.69" width="2.80" height="3.29" fill="#fff"/>
<rect x="262.00" y="234.59" width="2.85" height="3.29" fill="#fff"/><rect x="266.24" y="234.59" width="2.80" height="3.29" fill="#fff"/>
<rect x="193.73" y="247.99" width="2.85" height="3.29" fill="#fff"/><rect x="197.97" y="247.99" width="2.80" height="3.29" fill="#fff"/>
<rect x="262.00" y="247.99" width="2.85" height="3.29" fill="#fff"/><rect x="266.24" y="247.99" width="2.80" height="3.29" fill="#fff"/>
<g transform="translate(16.4,530.4) rotate(-90)"><rect x="55.61" y="-2.52" width="3.38" height="3.52" fill="#fff"/><rect x="60.64" y="-2.52" width="3.30" height="3.52" fill="#fff"/></g>
<g transform="translate(298.2,549.0) rotate(-90)"><rect x="109.01" y="-2.45" width="3.23" height="3.45" fill="#fff"/><rect x="113.82" y="-2.45" width="3.16" height="3.45" fill="#fff"/></g>
<rect x="19.19" y="408.96" width="2.94" height="3.33" fill="#fff"/><rect x="23.57" y="408.96" width="2.88" height="3.33" fill="#fff"/>
<rect x="58.12" y="563.37" width="2.94" height="3.33" fill="#fff"/><rect x="62.49" y="563.37" width="2.88" height="3.33" fill="#fff"/>
<rect x="160.49" y="526.86" width="2.94" height="3.33" fill="#fff"/><rect x="164.87" y="526.86" width="2.88" height="3.33" fill="#fff"/>
<rect x="199.37" y="564.27" width="2.94" height="3.33" fill="#fff"/><rect x="203.74" y="564.27" width="2.88" height="3.33" fill="#fff"/>
<rect x="308.68" y="452.63" width="2.94" height="3.33" fill="#fff"/><rect x="313.05" y="452.63" width="2.88" height="3.33" fill="#fff"/>
<rect x="308.68" y="433.15" width="2.94" height="3.33" fill="#fff"/><rect x="313.05" y="433.15" width="2.88" height="3.33" fill="#fff"/>
<rect x="308.68" y="413.66" width="2.94" height="3.33" fill="#fff"/><rect x="313.05" y="413.66" width="2.88" height="3.33" fill="#fff"/>
<rect x="361.57" y="560.77" width="2.94" height="3.33" fill="#fff"/><rect x="365.94" y="560.77" width="2.88" height="3.33" fill="#fff"/>
<rect x="564.52" y="416.09" width="2.85" height="3.29" fill="#fff"/><rect x="568.76" y="416.09" width="2.80" height="3.29" fill="#fff"/>
<rect x="570.78" y="416.09" width="2.85" height="3.29" fill="#fff"/><rect x="575.02" y="416.09" width="2.80" height="3.29" fill="#fff"/>
<rect x="495.53" y="434.19" width="2.85" height="3.29" fill="#fff"/><rect x="499.77" y="434.19" width="2.80" height="3.29" fill="#fff"/>
<rect x="563.80" y="451.89" width="2.85" height="3.29" fill="#fff"/><rect x="568.04" y="451.89" width="2.80" height="3.29" fill="#fff"/>
<rect x="495.53" y="469.49" width="2.85" height="3.29" fill="#fff"/><rect x="499.77" y="469.49" width="2.80" height="3.29" fill="#fff"/>
<rect x="563.80" y="469.49" width="2.85" height="3.29" fill="#fff"/><rect x="568.04" y="469.49" width="2.80" height="3.29" fill="#fff"/>
</svg></body></html>
